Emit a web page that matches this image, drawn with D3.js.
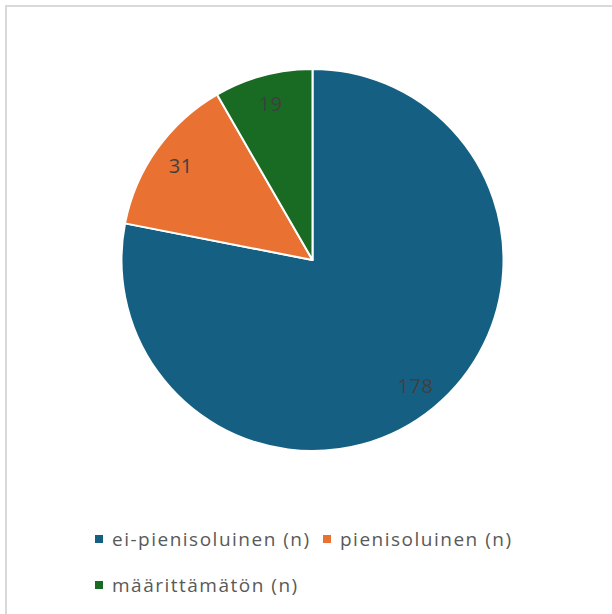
<!DOCTYPE html>
<html>
<head>
<meta charset="utf-8">
<script src="https://cdn.jsdelivr.net/npm/d3@7"></script>
<style>
  html, body { margin: 0; padding: 0; background: #fff; }
  svg { display: block; }
</style>
</head>
<body>
<svg id="chart" width="612" height="614"></svg>
<script>
// Categories, counts and slice colours
const categories = ["ei-pienisoluinen (n)", "pienisoluinen (n)", "määrittämätön (n)"];
const values = [178, 31, 19];
const colors = ["#156082", "#E97132", "#196B24"];

const svg = d3.select("#chart");
const W = 612, H = 614;
const font = "'Open Sans', 'Noto Sans', sans-serif";

// Chart frame
svg.append("rect")
  .attr("x", 6).attr("y", 6)
  .attr("width", W + 10).attr("height", H + 10)
  .attr("fill", "#fff")
  .attr("stroke", "#d9d9d9")
  .attr("stroke-width", 2);

const cx = 312.5, cy = 260, radius = 191;

const pie = d3.pie().sort(null).value(d => d.value);
const arcs = pie(categories.map((c, i) => ({ name: c, value: values[i], color: colors[i] })));

const arc = d3.arc().innerRadius(0).outerRadius(radius);
const labelArc = d3.arc().innerRadius(162).outerRadius(162);

const g = svg.append("g").attr("transform", `translate(${cx},${cy})`);

g.selectAll("path.slice")
  .data(arcs)
  .join("path")
  .attr("class", "slice")
  .attr("d", arc)
  .attr("fill", d => d.data.color)
  .attr("stroke", "#fff")
  .attr("stroke-width", 2)
  .attr("stroke-linejoin", "round");

g.selectAll("text.value")
  .data(arcs)
  .join("text")
  .attr("class", "value")
  .attr("transform", d => `translate(${labelArc.centroid(d)})`)
  .attr("text-anchor", "middle")
  .attr("dominant-baseline", "central")
  .attr("font-family", font)
  .attr("font-size", 20)
  .attr("letter-spacing", 0.5)
  .attr("fill", "#404040")
  .text(d => d.data.value);

// Legend
const legendPos = [
  { x: 95, y: 539 },
  { x: 323, y: 539 },
  { x: 95, y: 585 }
];

const legend = svg.selectAll("g.legend")
  .data(categories)
  .join("g")
  .attr("class", "legend")
  .attr("transform", (d, i) => `translate(${legendPos[i].x},${legendPos[i].y})`);

legend.append("rect")
  .attr("x", 0).attr("y", -4)
  .attr("width", 8).attr("height", 8)
  .attr("fill", (d, i) => colors[i]);

legend.append("text")
  .attr("x", 17)
  .attr("y", 0)
  .attr("dominant-baseline", "central")
  .attr("font-family", font)
  .attr("font-size", 19)
  .attr("letter-spacing", 1.5)
  .attr("fill", "#595959")
  .text(d => d);
</script>
</body>
</html>
